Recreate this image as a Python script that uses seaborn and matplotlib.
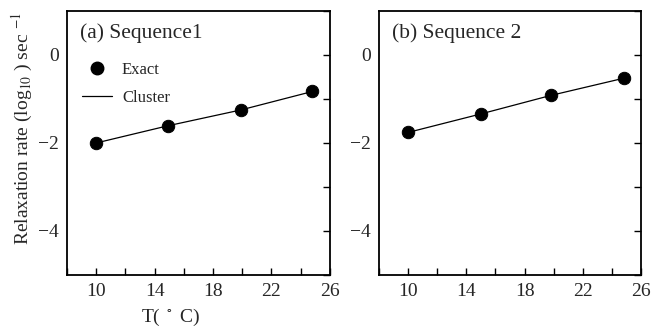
import numpy as np
import pandas as pd
import matplotlib
matplotlib.use("Agg")
import matplotlib.pyplot as plt
import seaborn as sns
from matplotlib.ticker import MultipleLocator
from matplotlib.lines import Line2D

# Data
temps_a = [10, 14.9, 19.9, 24.8]
rate_a = [-2.0, -1.61, -1.25, -0.83]
temps_b = [10, 15.0, 19.8, 24.8]
rate_b = [-1.76, -1.34, -0.92, -0.53]
titles = ["(a) Sequence1", "(b) Sequence 2"]

sns.set_style("ticks")
plt.rcParams['font.family'] = ['Liberation Serif', 'DejaVu Serif']
plt.rcParams['mathtext.fontset'] = 'stix'

fig = plt.figure(figsize=(6.54, 3.28), dpi=100)
ax1 = fig.add_axes([0.1024, 0.1616, 0.402, 0.805])
ax2 = fig.add_axes([0.5795, 0.1616, 0.4006, 0.805])

panels = [(ax1, temps_a, rate_a, titles[0]), (ax2, temps_b, rate_b, titles[1])]
for ax, t, r, title in panels:
    d = pd.DataFrame({"T": t, "rate": r})
    sns.lineplot(data=d, x="T", y="rate", ax=ax, color="black", linewidth=0.9)
    sns.scatterplot(data=d, x="T", y="rate", ax=ax, color="black", s=80,
                    edgecolor="black", zorder=3)
    ax.set_xlim(8, 26)
    ax.set_ylim(-5, 1)
    ax.set_xticks([10, 14, 18, 22, 26])
    ax.xaxis.set_minor_locator(MultipleLocator(2))
    ax.set_yticks([-4, -2, 0])
    ax.yaxis.set_minor_locator(MultipleLocator(1))
    ax.tick_params(axis="both", which="both", direction="in", length=5,
                   width=1, color="black")
    ax.tick_params(axis="y", which="both", left=False, right=True,
                   labelleft=True, labelright=False)
    ax.tick_params(axis="both", which="major", labelsize=14, pad=6)
    ax.set_yticklabels(["\u22124", "\u22122", "0"])
    for s in ax.spines.values():
        s.set_visible(True)
        s.set_linewidth(1.3)
        s.set_color("black")
    ax.set_xlabel("")
    ax.set_ylabel("")
    ax.text(0.05, 0.955, title, transform=ax.transAxes, fontsize=15.5,
            ha="left", va="top")

ax1.set_ylabel(r"Relaxation rate (log$_{10}$ ) sec $^{-1}$", fontsize=14)
ax1.yaxis.set_label_coords(-0.12, 0.555)
fig.text(0.26, 0.0, r"T( $^\circ$ C)", fontsize=14, ha="center", va="bottom")

handles = [Line2D([], [], marker="o", color="black", linestyle="none",
                  markersize=9),
           Line2D([], [], color="black", linewidth=0.9)]
ax1.legend(handles, ["Exact", "Cluster"], loc="upper left",
           bbox_to_anchor=(0.0, 0.865), frameon=False, fontsize=12,
           handlelength=1.8, handletextpad=0.6, labelspacing=0.75)

fig.savefig("out.png", dpi=100)
